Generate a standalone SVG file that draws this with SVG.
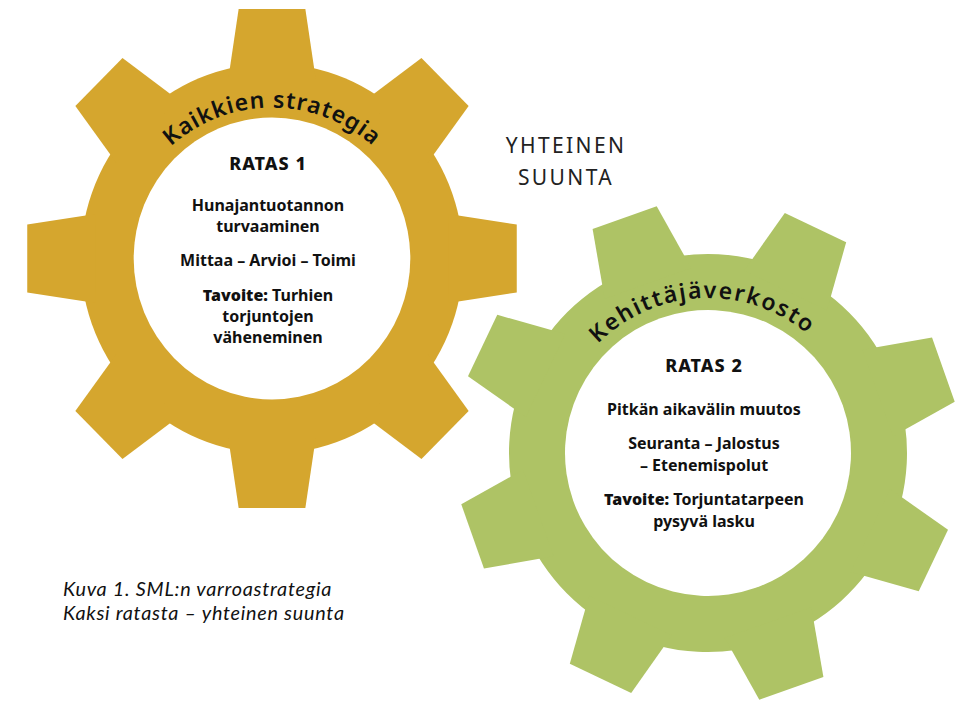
<svg xmlns="http://www.w3.org/2000/svg" width="973" height="705" viewBox="0 0 973 705">
<defs>
<style>
.gold{fill:#D5A62E}
.green{fill:#AEC365}
.hole{fill:#ffffff}
.arc{font-family:"Noto Sans","Open Sans",sans-serif;font-size:23px;font-weight:600;fill:#111}
.body{font-family:"Noto Sans","Open Sans",sans-serif;font-size:16px;font-weight:700;fill:#111;text-anchor:middle}
.head{font-family:"Noto Sans","Open Sans",sans-serif;font-size:18px;font-weight:800;fill:#111;text-anchor:middle;letter-spacing:1px}
.strong{font-weight:900}
.dir{font-family:"Noto Sans","Open Sans",sans-serif;font-size:21px;fill:#222;text-anchor:middle;letter-spacing:2.4px}
.cap{font-family:Lato,"Noto Sans",sans-serif;font-size:19.8px;font-style:italic;fill:#111;letter-spacing:0.75px}
</style>
<polygon id="t1" points="-44.5,-180 -34,-249.5 34,-249.5 44.5,-180"/>
<polygon id="t2" points="-45.9,-180 -34,-249.7 34,-249.7 45.9,-180"/>
<path id="arc1" d="M123.3,232.3 A151,151 0 0 1 420.7,232.3"/>
<path id="arc2" d="M554.3,432.8 A155,155 0 0 1 859.3,419.5"/>
</defs>

<g id="gear1">
<g class="gold" transform="translate(272,258.5) scale(0.981,1)">
<circle r="195"/>
<use href="#t1"/>
<use href="#t1" transform="rotate(45)"/>
<use href="#t1" transform="rotate(90)"/>
<use href="#t1" transform="rotate(135)"/>
<use href="#t1" transform="rotate(180)"/>
<use href="#t1" transform="rotate(225)"/>
<use href="#t1" transform="rotate(270)"/>
<use href="#t1" transform="rotate(315)"/>
<circle class="hole" r="141"/>
</g>
<text class="arc" letter-spacing="1"><textPath href="#arc1" startOffset="50%" text-anchor="middle">Kaikkien strategia</textPath></text>
<text class="head" x="268" y="170">RATAS 1</text>
<text class="body" x="268" y="211">Hunajantuotannon</text>
<text class="body" x="268" y="232">turvaaminen</text>
<text class="body" x="268" y="265.7">Mittaa – Arvioi – Toimi</text>
<text class="body" x="268" y="300.7"><tspan class="strong">Tavoite:</tspan> Turhien</text>
<text class="body" x="268" y="321.5">torjuntojen</text>
<text class="body" x="268" y="342.7">väheneminen</text>
</g>

<g id="gear2">
<g class="green" transform="translate(708,453) rotate(-19.5)">
<circle r="199"/>
<use href="#t2"/>
<use href="#t2" transform="rotate(45)"/>
<use href="#t2" transform="rotate(90)"/>
<use href="#t2" transform="rotate(135)"/>
<use href="#t2" transform="rotate(180)"/>
<use href="#t2" transform="rotate(225)"/>
<use href="#t2" transform="rotate(270)"/>
<use href="#t2" transform="rotate(315)"/>
<circle class="hole" r="143"/>
</g>
<text class="arc" letter-spacing="1.8"><textPath href="#arc2" startOffset="50%" text-anchor="middle">Kehittäjäverkosto</textPath></text>
<text class="head" x="704" y="371.7">RATAS 2</text>
<text class="body" x="704" y="415">Pitkän aikavälin muutos</text>
<text class="body" x="704" y="449">Seuranta – Jalostus</text>
<text class="body" x="704" y="470.7">– Etenemispolut</text>
<text class="body" x="704" y="505"><tspan class="strong">Tavoite:</tspan> Torjuntatarpeen</text>
<text class="body" x="704" y="526.7">pysyvä lasku</text>
</g>

<g id="direction">
<text class="dir" x="566" y="153.3">YHTEINEN</text>
<text class="dir" x="566" y="185">SUUNTA</text>
</g>

<g id="caption">
<text class="cap" x="63" y="596">Kuva 1. SML:n varroastrategia</text>
<text class="cap" x="63" y="620">Kaksi ratasta – yhteinen suunta</text>
</g>
</svg>
